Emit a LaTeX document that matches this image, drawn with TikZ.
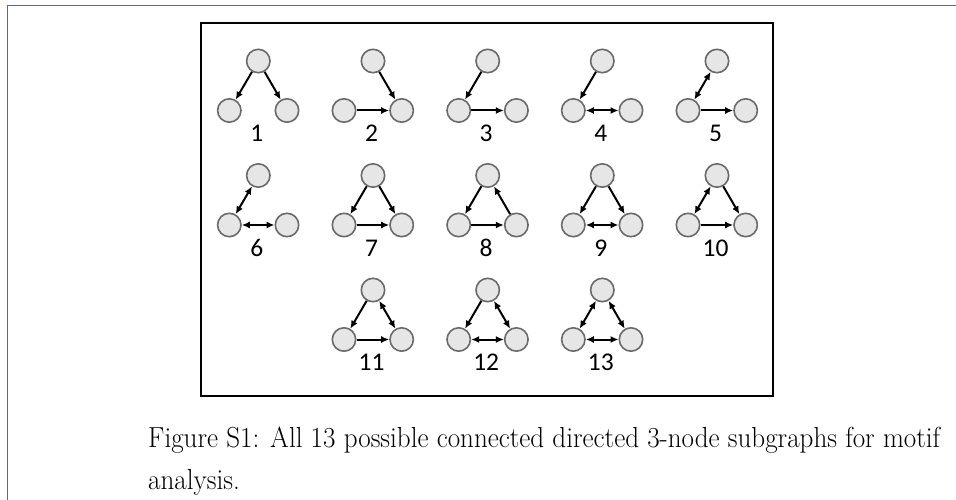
\documentclass[tikz,border=0pt]{standalone}
\usepackage{fontspec}
\usepackage{graphicx}
\usetikzlibrary{arrows.meta}
\newfontfamily\labelfont{Carlito}
\definecolor{framecol}{HTML}{4470A0}
\definecolor{vtxfill}{HTML}{E6E6E6}
\definecolor{vtxline}{HTML}{6A6A6A}
\newsavebox\capboxA
\newsavebox\capboxB
\AtBeginDocument{%
  \sbox\capboxA{\fontsize{29pt}{29pt}\selectfont Figure S1: All 13 possible connected directed 3-node subgraphs for motif}%
  \sbox\capboxB{\fontsize{29pt}{29pt}\selectfont analysis.}%
}
\newcommand\lblsize{\labelfont\fontsize{25.5pt}{25.5pt}\selectfont}
\newcommand\motif[4]{%
  % #1 name, #2 x of top vertex, #3 y of top vertex, #4 number
  \node[vtx] (#1t) at (#2,#3) {};
  \node[vtx] (#1l) at ({#2-29},{#3+49.5}) {};
  \node[vtx] (#1r) at ({#2+28.7},{#3+49.5}) {};
  \node[lbl] (#1n) at ({#2-1.5},{#3+80.5}) {#4};
}
\begin{document}
\begin{tikzpicture}[x=1pt,y=-1pt,
  vtx/.style={circle,draw=vtxline,fill=vtxfill,line width=1.6pt,minimum size=23.4pt,inner sep=0pt},
  lbl/.style={anchor=base,inner sep=0pt,font=\lblsize},
  one/.style={line width=2pt,-{Latex[length=8pt,width=7pt]}},
  two/.style={line width=2pt,{Latex[length=8pt,width=7pt]}-{Latex[length=8pt,width=7pt]}}]
\useasboundingbox (0,0) rectangle (956,500);
% page frame
\draw[framecol,line width=1.4pt] (7.5,500) -- (7.5,5.5) -- (956,5.5);
% figure box
\draw[black,line width=2.2pt] (201,23) rectangle (773,396);

% row 1
\motif{a}{258.3}{61}{1}
\motif{b}{373}{61}{2}
\motif{c}{487.7}{61}{3}
\motif{d}{602.3}{61}{4}
\motif{e}{717}{61}{5}
% row 2
\motif{f}{258.3}{175.5}{6}
\motif{g}{373}{175.5}{7}
\motif{h}{487.7}{175.5}{8}
\motif{i}{602.3}{175.5}{9}
\motif{j}{717}{175.5}{10}
% row 3
\motif{k}{373}{290}{11}
\motif{m}{487.7}{290}{12}
\motif{p}{602.3}{290}{13}

% 1
\draw[one] (at) -- (al); \draw[one] (at) -- (ar);
% 2
\draw[one] (bt) -- (br); \draw[one] (bl) -- (br);
% 3
\draw[one] (ct) -- (cl); \draw[one] (cl) -- (cr);
% 4
\draw[one] (dt) -- (dl); \draw[two] (dl) -- (dr);
% 5
\draw[two] (et) -- (el); \draw[one] (el) -- (er);
% 6
\draw[two] (ft) -- (fl); \draw[two] (fl) -- (fr);
% 7
\draw[one] (gt) -- (gl); \draw[one] (gt) -- (gr); \draw[one] (gl) -- (gr);
% 8
\draw[one] (ht) -- (hl); \draw[one] (hr) -- (ht); \draw[one] (hl) -- (hr);
% 9
\draw[one] (it) -- (il); \draw[one] (it) -- (ir); \draw[two] (il) -- (ir);
% 10
\draw[two] (jt) -- (jl); \draw[one] (jt) -- (jr); \draw[one] (jl) -- (jr);
% 11
\draw[one] (kt) -- (kl); \draw[two] (kt) -- (kr); \draw[one] (kl) -- (kr);
% 12
\draw[one] (mt) -- (ml); \draw[two] (mt) -- (mr); \draw[two] (ml) -- (mr);
% 13
\draw[two] (pt) -- (pl); \draw[two] (pt) -- (pr); \draw[two] (pl) -- (pr);

% caption, stretched horizontally to the text block width
\pgfmathsetmacro\capsx{792/\wd\capboxA}
\node[anchor=base west,inner sep=0pt] (cap1) at (148,447) {\scalebox{\capsx}[1]{\usebox\capboxA}};
\node[anchor=base west,inner sep=0pt] (cap2) at (148,489) {\scalebox{\capsx}[1]{\usebox\capboxB}};
\end{tikzpicture}
\end{document}
